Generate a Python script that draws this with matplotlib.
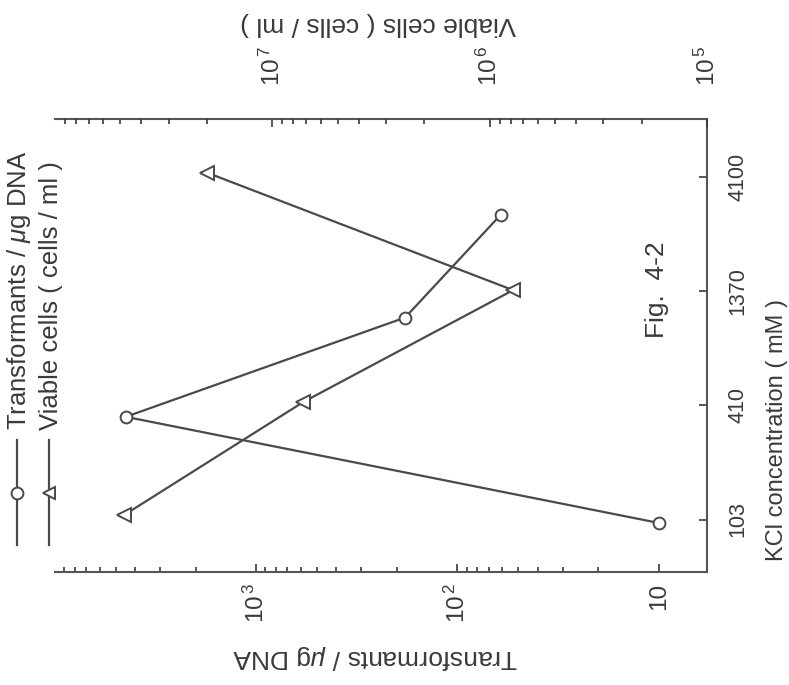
import matplotlib
matplotlib.use("Agg")
import matplotlib.pyplot as plt
from matplotlib.lines import Line2D
from matplotlib.ticker import FixedLocator

plt.rcParams["font.family"] = ["Liberation Sans", "DejaVu Sans"]
plt.rcParams["mathtext.fontset"] = "custom"
plt.rcParams["mathtext.rm"] = "Liberation Sans"
plt.rcParams["mathtext.it"] = "Liberation Sans:italic"

# KCl categories (drawn on an evenly spaced axis)
kcl_labels = ["103", "410", "1370", "4100"]
kcl_idx = [0, 1, 2, 3]

# where each series sits along the KCl axis
trans_kcl = [-0.03, 0.90, 1.77, 2.67]
viable_kcl = [0.04, 1.03, 2.01, 3.04]

# values
transformants = [10, 4450, 182, 61]          # per ug DNA
viable_cells = [4.8e7, 7.2e6, 7.8e5, 2.0e7]  # cells / ml

trans_ticks = [10, 100, 1000]
trans_ticklabels = ["10", r"$10^{\,2}$", r"$10^{\,3}$"]
viable_ticks = [1e5, 1e6, 1e7]
viable_ticklabels = [r"$10^{\,5}$", r"$10^{\,6}$", r"$10^{\,7}$"]

W, H = 789, 685
ink = "#3a3a3a"
fig = plt.figure(figsize=(W / 100, H / 100), dpi=100)
ax = fig.add_axes([55 / W, 1 - 572 / H, (707 - 55) / W, (572 - 119) / H])

# bottom axis: transformants (log, increasing to the left)
ax.set_xscale("log")
ax.set_xlim(1e4, 10 ** 0.76)
ax.set_ylim(-0.46, 3.51)
ax.set_xticks(trans_ticks)
ax.set_xticklabels(trans_ticklabels, rotation=90, fontsize=17.5, color=ink)
ax.xaxis.set_minor_locator(FixedLocator(
    [m * 10 ** e for e in (1, 2, 3) for m in range(2, 10)]))
ax.tick_params(axis="x", which="major", direction="in", length=6, width=1.2,
               pad=8, colors=ink)
ax.tick_params(axis="x", which="minor", direction="in", length=3.5, width=1.2,
               colors=ink)

# right axis: KCl concentration
ax.yaxis.tick_right()
ax.set_yticks(kcl_idx)
ax.set_yticklabels(kcl_labels, rotation=90, va="center", fontsize=15.5, color=ink)
ax.tick_params(axis="y", direction="in", length=6, width=1.2, pad=15, colors=ink)

for s in ax.spines.values():
    s.set_color("#555555")
    s.set_linewidth(1.5)
ax.spines["left"].set_visible(False)

# top axis: viable cells (log, increasing to the left)
ax2 = ax.twiny()
ax2.set_xscale("log")
ax2.set_xlim(1e8, 1e5)
ax2.set_xticks(viable_ticks)
ax2.set_xticklabels(viable_ticklabels, rotation=90, fontsize=17.5, color=ink)
ax2.tick_params(axis="x", which="major", direction="in", length=6, width=1.2,
                pad=24, colors=ink)
ax2.tick_params(axis="x", which="minor", direction="in", length=3.5, width=1.2,
                colors=ink)
for s in ax2.spines.values():
    s.set_visible(False)

line_kw = dict(color="#4a4a4a", lw=1.6, markerfacecolor="white",
               markeredgecolor="#4a4a4a", markeredgewidth=1.4)
ax.plot(transformants, trans_kcl, marker="o", markersize=8.5, **line_kw)
ax2.plot(viable_cells, viable_kcl, marker="<", markersize=10, **line_kw)

# axis titles (page is turned on its side)
fig.text(375 / W, 1 - 657 / H, r"Transformants / $\mu$g DNA", rotation=180,
         ha="center", va="center", fontsize=19, color=ink)
fig.text(378 / W, 1 - 24 / H, "Viable cells ( cells / ml )", rotation=180,
         ha="center", va="center", fontsize=19, color=ink)
fig.text(777 / W, 1 - 430 / H, "KCl concentration ( mM )", rotation=90,
         ha="center", va="center", fontsize=17, color=ink)
fig.text(657 / W, 1 - 290 / H, "Fig.  4-2", rotation=90,
         ha="center", va="center", fontsize=19, color=ink)

# hand-made legend, turned like the rest of the page
legend_rows = [(r"Transformants / $\mu$g DNA", "o", 17),
               ("Viable cells ( cells / ml )", "<", 49)]
for text, mk, x in legend_rows:
    fig.add_artist(Line2D([x / W, x / W], [1 - 545 / H, 1 - 440 / H],
                          transform=fig.transFigure, color="#4a4a4a", lw=1.6))
    fig.add_artist(Line2D([x / W], [1 - 493 / H], transform=fig.transFigure,
                          marker=mk, markersize=8.5, linestyle="none",
                          markerfacecolor="white", markeredgecolor="#4a4a4a",
                          markeredgewidth=1.4))
    fig.text((x + 2) / W, 1 - 430 / H, text, rotation=90, ha="center",
             va="bottom", fontsize=18.5, color=ink)

fig.savefig("out.png", dpi=100)
